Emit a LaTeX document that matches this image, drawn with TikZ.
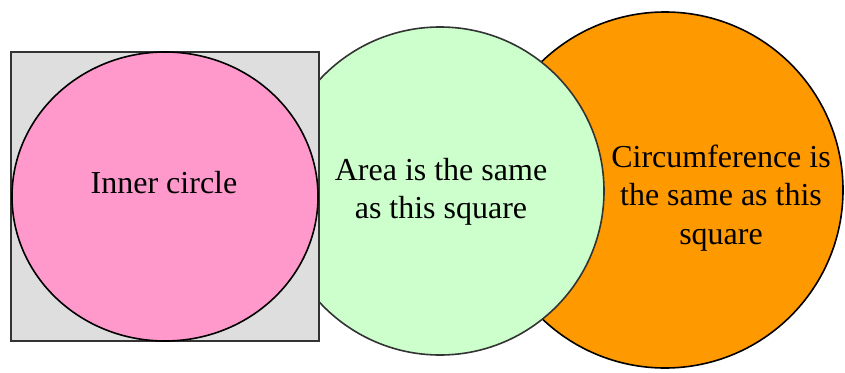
\documentclass[tikz,border=0pt]{standalone}
\usepackage{fontspec}
\setmainfont{Liberation Serif}
\definecolor{pinkfill}{HTML}{FF99CC}
\definecolor{greenfill}{HTML}{CCFFCC}
\definecolor{orangefill}{HTML}{FF9900}
\definecolor{squarefill}{HTML}{DEDEDE}
\definecolor{darkline}{HTML}{333333}
\begin{document}
\begin{tikzpicture}[x=1pt,y=-1pt,
  lbl/.style={font=\fontsize{32}{38.5}\selectfont, align=center, text=black},
  shapeline/.style={line width=1.6pt}]
\useasboundingbox (0,0) rectangle (845,372);
% orange circle (back)
\node[draw=black, shapeline, fill=orangefill, circle, minimum size=356pt, inner sep=0pt] (orange) at (665,190) {};
% green circle
\node[draw=darkline, shapeline, fill=greenfill, circle, minimum size=328pt, inner sep=0pt] (green) at (440,191) {};
% square
\node[draw=darkline, shapeline, fill=squarefill, rectangle, minimum width=308pt, minimum height=289pt, inner sep=0pt] (square) at (165,196.5) {};
% pink ellipse
\draw[black, shapeline, fill=pinkfill] (165,196.5) ellipse [x radius=153, y radius=144.5];
\coordinate (pinkc) at (165,196.5);
% labels
\node[lbl] (t1) at (164,183) {Inner circle};
\node[lbl] (t2) at (441,192) {Area is the same\\as this square};
\node[lbl] (t3) at (721,198) {Circumference is\\the same as this\\square};
\end{tikzpicture}
\end{document}
